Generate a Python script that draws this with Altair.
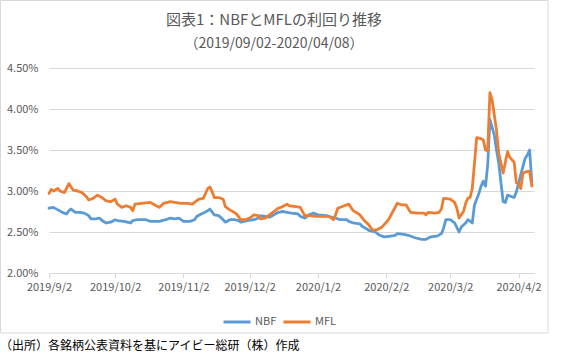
import altair as alt
import pandas as pd

# ---------------- data ----------------
nbf_dates = [
    "2019-09-02", "2019-09-04", "2019-09-06", "2019-09-08", "2019-09-10", "2019-09-11", "2019-09-12",
    "2019-09-14", "2019-09-16", "2019-09-18", "2019-09-20", "2019-09-21", "2019-09-23", "2019-09-25",
    "2019-09-26", "2019-09-28", "2019-09-30",
    "2019-10-02", "2019-10-03", "2019-10-06", "2019-10-09", "2019-10-10", "2019-10-12", "2019-10-16",
    "2019-10-18", "2019-10-22", "2019-10-25", "2019-10-27", "2019-10-29", "2019-10-31",
    "2019-11-02", "2019-11-05", "2019-11-07", "2019-11-08", "2019-11-10", "2019-11-11", "2019-11-13",
    "2019-11-14", "2019-11-16", "2019-11-18", "2019-11-20", "2019-11-21", "2019-11-23", "2019-11-25",
    "2019-11-27", "2019-11-28",
    "2019-12-01", "2019-12-04", "2019-12-06", "2019-12-07", "2019-12-09", "2019-12-11", "2019-12-15",
    "2019-12-17", "2019-12-19", "2019-12-21", "2019-12-24", "2019-12-25", "2019-12-27", "2019-12-29",
    "2019-12-31",
    "2020-01-02", "2020-01-06", "2020-01-08", "2020-01-10", "2020-01-12", "2020-01-15", "2020-01-16",
    "2020-01-18", "2020-01-21", "2020-01-22", "2020-01-24", "2020-01-25", "2020-01-28", "2020-01-30",
    "2020-02-01", "2020-02-04", "2020-02-06", "2020-02-07", "2020-02-10", "2020-02-12", "2020-02-15",
    "2020-02-18", "2020-02-20", "2020-02-22", "2020-02-25", "2020-02-27", "2020-02-28", "2020-02-29",
    "2020-03-02", "2020-03-04", "2020-03-06", "2020-03-07", "2020-03-09", "2020-03-10", "2020-03-12",
    "2020-03-13", "2020-03-15", "2020-03-16", "2020-03-17", "2020-03-18", "2020-03-19", "2020-03-20",
    "2020-03-22", "2020-03-23", "2020-03-24", "2020-03-26", "2020-03-27", "2020-03-28", "2020-03-30",
    "2020-03-31",
    "2020-04-01", "2020-04-03", "2020-04-05", "2020-04-06", "2020-04-07", "2020-04-08",
]
nbf_values = [
    2.79, 2.80, 2.77, 2.74, 2.72, 2.76, 2.78, 2.74, 2.74, 2.73, 2.70, 2.66, 2.66, 2.67, 2.64, 2.61, 2.62,
    2.65, 2.64, 2.63, 2.61, 2.64, 2.65, 2.65, 2.63, 2.63, 2.65, 2.67, 2.66, 2.67,
    2.63, 2.63, 2.65, 2.69, 2.72, 2.73, 2.76, 2.78, 2.71, 2.70, 2.65, 2.62, 2.65, 2.65, 2.64, 2.62,
    2.64, 2.65, 2.67, 2.70, 2.69, 2.68, 2.74, 2.75, 2.74, 2.73, 2.72, 2.69, 2.67, 2.71, 2.73,
    2.71, 2.70, 2.68, 2.67, 2.65, 2.65, 2.63, 2.61, 2.60, 2.57, 2.54, 2.52, 2.50, 2.46,
    2.44, 2.45, 2.46, 2.48, 2.47, 2.46, 2.43, 2.41, 2.41, 2.44, 2.45, 2.48, 2.55, 2.65,
    2.65, 2.61, 2.50, 2.56, 2.61, 2.65, 2.61, 2.83, 2.97, 3.06, 3.12, 3.06, 3.32, 3.87, 3.68, 3.50,
    3.34, 2.87, 2.86, 2.95, 2.93, 2.92,
    2.99, 3.20, 3.40, 3.44, 3.50, 3.11,
]

mfl_dates = [
    "2019-09-02", "2019-09-03", "2019-09-04", "2019-09-06", "2019-09-07", "2019-09-09", "2019-09-11",
    "2019-09-13", "2019-09-15", "2019-09-17", "2019-09-19", "2019-09-20", "2019-09-22", "2019-09-24",
    "2019-09-26", "2019-09-28", "2019-09-30",
    "2019-10-02", "2019-10-03", "2019-10-05", "2019-10-07", "2019-10-09", "2019-10-10", "2019-10-11",
    "2019-10-14", "2019-10-18", "2019-10-20", "2019-10-22", "2019-10-24", "2019-10-27", "2019-10-29",
    "2019-11-01", "2019-11-04", "2019-11-06", "2019-11-07", "2019-11-09", "2019-11-11", "2019-11-12",
    "2019-11-13", "2019-11-14", "2019-11-15", "2019-11-16", "2019-11-18", "2019-11-20", "2019-11-21",
    "2019-11-23", "2019-11-25", "2019-11-26", "2019-11-28", "2019-11-30",
    "2019-12-02", "2019-12-04", "2019-12-06", "2019-12-07", "2019-12-09", "2019-12-11", "2019-12-13",
    "2019-12-15", "2019-12-17", "2019-12-19", "2019-12-20", "2019-12-23", "2019-12-25", "2019-12-27",
    "2019-12-29",
    "2020-01-01", "2020-01-04", "2020-01-07", "2020-01-09", "2020-01-10", "2020-01-11", "2020-01-14",
    "2020-01-16", "2020-01-18", "2020-01-21", "2020-01-23", "2020-01-25", "2020-01-26", "2020-01-27",
    "2020-01-29", "2020-01-31",
    "2020-02-03", "2020-02-05", "2020-02-07", "2020-02-09", "2020-02-11", "2020-02-13", "2020-02-16",
    "2020-02-19", "2020-02-20", "2020-02-21", "2020-02-24", "2020-02-26", "2020-02-27", "2020-02-28",
    "2020-03-02", "2020-03-04", "2020-03-05", "2020-03-06", "2020-03-08", "2020-03-09", "2020-03-10",
    "2020-03-11", "2020-03-12", "2020-03-14", "2020-03-16", "2020-03-17", "2020-03-18", "2020-03-19",
    "2020-03-20", "2020-03-21", "2020-03-23", "2020-03-24", "2020-03-26", "2020-03-28", "2020-03-29",
    "2020-03-31",
    "2020-04-01", "2020-04-02", "2020-04-03", "2020-04-04", "2020-04-06", "2020-04-07", "2020-04-08",
]
mfl_values = [
    2.97, 3.02, 3.00, 3.03, 3.00, 2.98, 3.09, 3.01, 3.00, 2.98, 2.93, 2.89, 2.91, 2.95, 2.92, 2.88, 2.87,
    2.90, 2.84, 2.80, 2.82, 2.80, 2.76, 2.84, 2.85, 2.86, 2.83, 2.80, 2.85, 2.87, 2.86,
    2.85, 2.85, 2.84, 2.86, 2.90, 2.91, 2.97, 3.03, 3.05, 2.99, 2.92, 2.92, 2.90, 2.81, 2.77, 2.74,
    2.72, 2.65, 2.65,
    2.67, 2.71, 2.70, 2.66, 2.67, 2.71, 2.75, 2.79, 2.81, 2.84, 2.82, 2.81, 2.80, 2.70, 2.70,
    2.69, 2.69, 2.69, 2.65, 2.71, 2.79, 2.82, 2.84, 2.76, 2.71, 2.64, 2.59, 2.55, 2.52, 2.53, 2.56,
    2.65, 2.75, 2.85, 2.83, 2.83, 2.74, 2.73, 2.73, 2.71, 2.74, 2.73, 2.74, 2.78, 2.91,
    2.90, 2.86, 2.79, 2.67, 2.75, 2.85, 2.91, 2.92, 3.03, 3.65, 3.64, 3.62, 3.50, 3.49, 4.20, 4.11,
    3.74, 3.46, 3.22, 3.48, 3.41, 3.35,
    3.10, 3.09, 3.03, 3.22, 3.24, 3.24, 3.06,
]

series_names = ["NBF", "MFL"]
series_colors = ["#5B9BD5", "#ED7D31"]
y_ticks = [2.0, 2.5, 3.0, 3.5, 4.0, 4.5]
x_tick_dates = [(2019, 9, 2), (2019, 10, 2), (2019, 11, 2), (2019, 12, 2),
                (2020, 1, 2), (2020, 2, 2), (2020, 3, 2), (2020, 4, 2)]

title_text = "図表1：NBFとMFLの利回り推移"
subtitle_text = "（2019/09/02-2020/04/08）"
footer_text = "（出所）各銘柄公表資料を基にアイビー総研（株）作成"

# ---------------- table ----------------
df = pd.concat([
    pd.DataFrame({"date": pd.to_datetime(nbf_dates), "value": nbf_values, "series": "NBF"}),
    pd.DataFrame({"date": pd.to_datetime(mfl_dates), "value": mfl_values, "series": "MFL"}),
], ignore_index=True)

FONT = "Noto Sans CJK JP"
GRAY_TXT = "#595959"
GRID = "#d9d9d9"

PAD_L, PAD_T = 49, 68
W, H = 485, 205

lines = alt.Chart(df).mark_line(strokeWidth=2.8, strokeJoin="round", strokeCap="round").encode(
    x=alt.X(
        "date:T",
        scale=alt.Scale(domain=[alt.DateTime(year=2019, month=9, date=2),
                                alt.DateTime(year=2020, month=4, date=9)]),
        axis=alt.Axis(
            title=None,
            values=[alt.DateTime(year=y, month=m, date=d) for (y, m, d) in x_tick_dates],
            format="%Y/%-m/%-d",
            grid=False,
            domain=True, domainColor=GRID, domainWidth=1,
            ticks=True, tickColor=GRID, tickSize=5,
            labelColor=GRAY_TXT, labelFontSize=11, labelPadding=3,
            labelOverlap=False, labelBound=False, labelFlush=False,
        ),
    ),
    y=alt.Y(
        "value:Q",
        scale=alt.Scale(domain=[2.0, 4.5], nice=False, zero=False),
        axis=alt.Axis(
            title=None,
            values=y_ticks,
            labelExpr="format(datum.value, '.2f') + '%'",
            grid=True, gridColor=GRID, gridWidth=1,
            domain=False, ticks=False,
            labelColor=GRAY_TXT, labelFontSize=11, labelPadding=11,
        ),
    ),
    color=alt.Color(
        "series:N",
        scale=alt.Scale(domain=series_names, range=series_colors),
        legend=alt.Legend(
            title=None,
            orient="none",
            legendX=173,
            legendY=239,
            direction="horizontal",
            symbolType="stroke",
            symbolSize=729,
            symbolStrokeWidth=3,
            labelFontSize=11,
            labelColor=GRAY_TXT,
            labelOffset=3,
            columnPadding=0,
        ),
    ),
    order=alt.Order("date:T"),
)

border = alt.Chart(pd.DataFrame({"k": [0]})).mark_rect(
    fill=None, stroke=GRID, strokeWidth=1
).encode(
    x=alt.value(-PAD_L + 0.5), x2=alt.value(548 - PAD_L),
    y=alt.value(-PAD_T + 0.5), y2=alt.value(333 - PAD_T),
)

title_mark = alt.Chart(pd.DataFrame({"t": [title_text]})).mark_text(
    align="center", baseline="middle", fontSize=15, color=GRAY_TXT, font=FONT
).encode(
    text="t:N",
    x=alt.value(274 - PAD_L),
    y=alt.value(20 - PAD_T),
)

subtitle_mark = alt.Chart(pd.DataFrame({"t": [subtitle_text]})).mark_text(
    align="center", baseline="middle", fontSize=14, color=GRAY_TXT, font=FONT
).encode(
    text="t:N",
    x=alt.value(274 - PAD_L),
    y=alt.value(44 - PAD_T),
)

footer = alt.Chart(pd.DataFrame({"t": [footer_text]})).mark_text(
    align="left", baseline="middle", fontSize=12, color="#000000", font=FONT
).encode(
    text="t:N",
    x=alt.value(-PAD_L),
    y=alt.value(346 - PAD_T),
)

chart = alt.layer(border, lines, title_mark, subtitle_mark, footer).properties(
    width=W,
    height=H,
    padding={"left": PAD_L, "top": PAD_T, "right": 577 - PAD_L - W, "bottom": 353 - PAD_T - H},
    autosize=alt.AutoSizeParams(type="none"),
).configure(
    font=FONT,
    background="white",
).configure_view(
    stroke=None,
)

chart.save("out.html", embed_options={"renderer": "svg", "actions": False})
